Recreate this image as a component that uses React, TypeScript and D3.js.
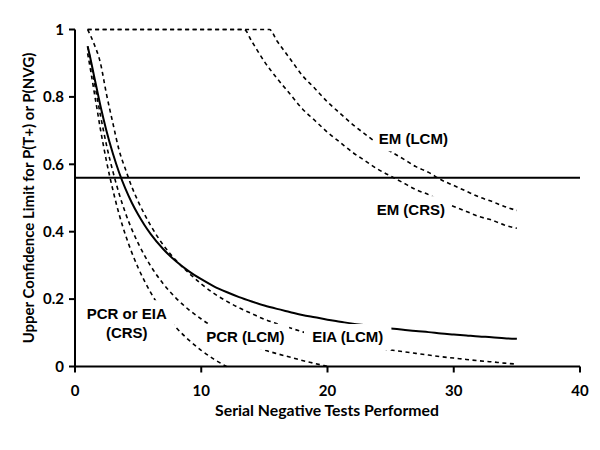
import React from "react";
import * as d3 from "d3";

// x: serial negative tests performed
const xTicks = [0, 10, 20, 30, 40];
const yTicks = [0, 0.2, 0.4, 0.6, 0.8, 1];
const yTickLabels = ["0", "0.2", "0.4", "0.6", "0.8", "1"];

const thresholdValue = 0.56;

// Solid: upper confidence limit for P(T+)
const solidN = [1, 1.25, 1.5, 1.75, 2, 2.25, 2.5, 3, 3.5, 4, 4.5, 5, 5.5, 6, 7, 8, 9, 10, 11, 12, 13, 14, 15, 16, 17, 18, 19, 20, 21, 22, 23, 24, 25, 26, 27, 28, 29, 30, 31, 32, 33, 34, 35];
const solidV = [0.95, 0.909, 0.864, 0.82, 0.776, 0.736, 0.698, 0.632, 0.575, 0.527, 0.486, 0.451, 0.42, 0.393, 0.348, 0.312, 0.283, 0.259, 0.238, 0.221, 0.206, 0.193, 0.181, 0.171, 0.162, 0.153, 0.146, 0.139, 0.133, 0.127, 0.122, 0.117, 0.113, 0.109, 0.105, 0.102, 0.098, 0.095, 0.092, 0.089, 0.087, 0.084, 0.082];

// EM (CRS)
const emCrsN = [1, 13.4, 14, 15, 16, 17, 18, 19, 20, 21, 22, 23, 24, 25, 26, 27, 28, 29, 30, 31, 32, 33, 34, 35];
const emCrsV = [1, 1, 0.965, 0.905, 0.855, 0.81, 0.765, 0.73, 0.695, 0.665, 0.635, 0.61, 0.585, 0.565, 0.545, 0.525, 0.51, 0.49, 0.475, 0.46, 0.445, 0.435, 0.42, 0.41];

// EM (LCM)
const emLcmN = [1, 15.4, 16, 17, 18, 19, 20, 21, 22, 23, 24, 25, 26, 27, 28, 29, 30, 31, 32, 33, 34, 35];
const emLcmV = [1, 1, 0.966, 0.915, 0.864, 0.825, 0.785, 0.751, 0.718, 0.689, 0.661, 0.638, 0.616, 0.593, 0.576, 0.554, 0.537, 0.52, 0.503, 0.49, 0.475, 0.463];

// PCR or EIA (CRS)
const crsN = [1, 1.25, 1.5, 1.75, 2, 2.25, 2.5, 3, 3.5, 4, 4.5, 5, 5.5, 6, 7, 8, 9, 10, 11, 12];
const crsV = [0.929, 0.876, 0.819, 0.763, 0.707, 0.656, 0.608, 0.524, 0.451, 0.39, 0.338, 0.293, 0.254, 0.219, 0.162, 0.116, 0.079, 0.048, 0.022, 0];

// PCR (LCM)
const pcrN = [1, 1.25, 1.5, 1.75, 2, 2.25, 2.5, 3, 3.5, 4, 4.5, 5, 5.5, 6, 7, 8, 9, 10, 11, 12, 13, 14, 15, 16, 17, 18, 19, 20];
const pcrV = [0.95, 0.904, 0.851, 0.799, 0.748, 0.701, 0.656, 0.579, 0.512, 0.455, 0.407, 0.366, 0.33, 0.298, 0.245, 0.203, 0.169, 0.141, 0.116, 0.096, 0.079, 0.063, 0.049, 0.038, 0.028, 0.018, 0.009, 0];

// EIA (LCM)
const eiaN = [1, 1.5, 2, 2.5, 3, 3.5, 4, 4.5, 5, 5.5, 6, 7, 8, 9, 10, 11, 12, 13, 14, 15, 16, 17, 18, 19, 20, 21, 22, 23, 24, 25, 26, 27, 28, 29, 30, 31, 32, 33, 34, 35];
const eiaV = [1, 0.958, 0.903, 0.807, 0.722, 0.641, 0.585, 0.533, 0.49, 0.452, 0.418, 0.36, 0.315, 0.278, 0.245, 0.217, 0.194, 0.174, 0.157, 0.14, 0.127, 0.115, 0.103, 0.093, 0.084, 0.076, 0.068, 0.061, 0.054, 0.049, 0.044, 0.039, 0.034, 0.029, 0.025, 0.021, 0.017, 0.014, 0.01, 0.007];

const labelTexts = [["EM (LCM)"], ["EM (CRS)"], ["PCR or EIA", "(CRS)"], ["PCR (LCM)"], ["EIA (LCM)"]];
const labelX = [26.8, 26.6, 4.1, 13.5, 21.6];
const labelY = [0.677, 0.467, 0.13, 0.088, 0.0875];

const W = 600;
const H = 450;
const left = 75;
const right = 580;
const top = 29.5;
const bottom = 366.5;

export default function App() {
  const x = d3.scaleLinear().domain([0, 40]).range([left, right]);
  const y = d3.scaleLinear().domain([0, 1]).range([bottom, top]);
  const line = d3
    .line<[number, number]>()
    .x((d) => x(d[0]))
    .y((d) => y(d[1]))
    .curve(d3.curveMonotoneX);
  const zip = (a: number[], b: number[]) => a.map((v, i) => [v, b[i]] as [number, number]);

  const dashed = [
    zip(emCrsN, emCrsV),
    zip(emLcmN, emLcmV),
    zip(crsN, crsV),
    zip(pcrN, pcrV),
    zip(eiaN, eiaV),
  ];

  const annFont = "'Liberation Sans', Arial, sans-serif";
  const axFont = "Lato, 'Open Sans', sans-serif";
  const fs = 15;

  return (
    <svg width={W} height={H} style={{ position: "absolute", left: 0, top: 0, background: "#fff" }}>
      <rect x={0} y={0} width={W} height={H} fill="#fff" />
      <path d={line(zip(solidN, solidV)) || ""} fill="none" stroke="#000" strokeWidth={2} />
      {dashed.map((d, i) => (
        <path
          key={i}
          d={line(d) || ""}
          fill="none"
          stroke="#000"
          strokeWidth={1.6}
          strokeDasharray="4,3.5"
        />
      ))}
      <line x1={x(0)} x2={x(40)} y1={y(thresholdValue)} y2={y(thresholdValue)} stroke="#000" strokeWidth={2} />
      {labelTexts.map((lines, i) => {
        const lh = 19;
        const cx = x(labelX[i]);
        const cy = y(labelY[i]);
        const maxLen = Math.max(...lines.map((s) => s.length));
        const bw = maxLen * 8.6 + 10;
        const bh = lines.length * lh + 7;
        return (
          <g key={i}>
            <rect x={cx - bw / 2} y={cy - bh / 2} width={bw} height={bh} fill="#fff" />
            {lines.map((s, j) => (
              <text
                key={j}
                x={cx}
                y={cy + (j - (lines.length - 1) / 2) * lh}
                dy="0.36em"
                textAnchor="middle"
                fontFamily={annFont}
                fontWeight="bold"
                fontSize={15}
                fill="#000"
              >
                {s}
              </text>
            ))}
          </g>
        );
      })}
      <line x1={left} x2={left} y1={top} y2={bottom} stroke="#000" strokeWidth={2} />
      <line x1={left} x2={right} y1={bottom} y2={bottom} stroke="#000" strokeWidth={2} />
      {yTicks.map((t, i) => (
        <g key={"y" + i}>
          <line x1={left - 6} x2={left} y1={y(t)} y2={y(t)} stroke="#000" strokeWidth={2} />
          <text
            x={left - 11}
            y={y(t)}
            dy="0.35em"
            textAnchor="end"
            fontFamily={axFont}
            fontWeight="bold"
            fontSize={fs}
            fill="#000"
          >
            {yTickLabels[i]}
          </text>
        </g>
      ))}
      {xTicks.map((t, i) => (
        <g key={"x" + i}>
          <line x1={x(t)} x2={x(t)} y1={bottom} y2={bottom + 6} stroke="#000" strokeWidth={2} />
          <text
            x={x(t)}
            y={bottom + 24}
            dy="0.35em"
            textAnchor="middle"
            fontFamily={axFont}
            fontWeight="bold"
            fontSize={fs}
            fill="#000"
          >
            {t}
          </text>
        </g>
      ))}
      <text
        x={327}
        y={410}
        dy="0.35em"
        textAnchor="middle"
        fontFamily={axFont}
        fontWeight="bold"
        fontSize={15.8}
        fill="#000"
      >
        Serial Negative Tests Performed
      </text>
      <text
        transform={`translate(28.5, 198) rotate(-90)`}
        dy="0.35em"
        textAnchor="middle"
        fontFamily={axFont}
        fontWeight="bold"
        fontSize={15}
        fill="#000"
      >
        Upper Confidence Limit for P(T+) or P(NVG)
      </text>
    </svg>
  );
}
